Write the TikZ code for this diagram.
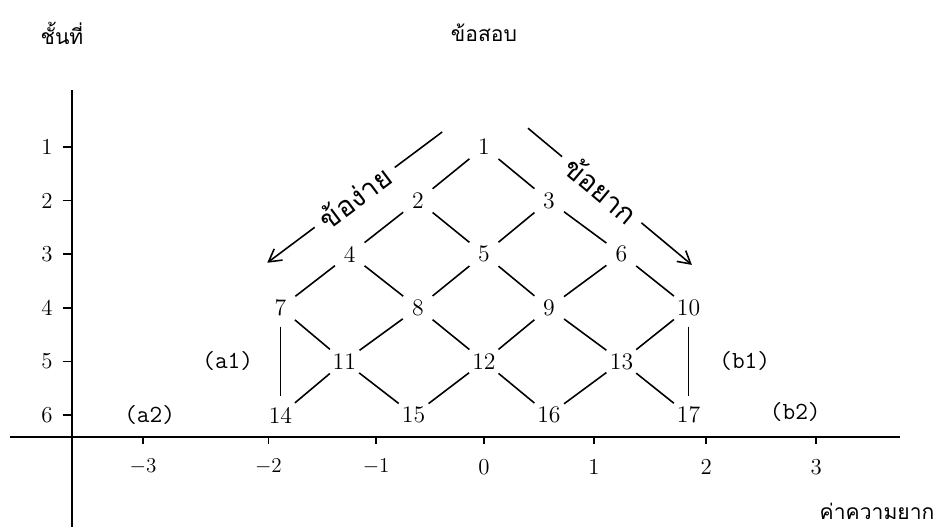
\documentclass[tikz,border=0pt]{standalone}
\usepackage{fontspec}
\newfontfamily\thaifont[Script=Thai]{Loma}
\usetikzlibrary{arrows.meta, positioning}

\begin{document}
\begin{tikzpicture}[
    x=2.2cm, y=-1.072cm,
    item/.style={circle, inner sep=0.5pt, minimum size=21pt, font=\fontsize{13.5}{15}\selectfont},
    link/.style={line width=0.9pt},
    axis/.style={line width=1.4pt},
    axtick/.style={line width=0.9pt},
    ticklabel/.style={inner sep=1pt, font=\fontsize{13}{15}\selectfont},
    group/.style={inner sep=1pt, font=\ttfamily\fontsize{14}{16}\selectfont},
    thai/.style={inner sep=2pt, font=\thaifont\large},
    trend/.style={line width=0.9pt, -{Straight Barb[length=7pt, width=8pt]}}
]

\useasboundingbox (-4.4,-1.7425) rectangle (4.1545,8.0896);

% Titles
\node[thai] (ytitle) at (-3.836,-1.127) {ชั้นที่};
\node[thai] (ttitle) at (0,-1.127) {ข้อสอบ};
\node[thai] (xtitle) at (3.573,7.8) {ค่าความยาก};

% Axes
\coordinate (ytop) at (-3.745,-0.06);
\coordinate (ybot) at (-3.745,8.0896);
\coordinate (xleft) at (-4.31,6.41);
\coordinate (xright) at (3.78,6.41);
\draw[axis] (ytop) -- (ybot);
\draw[axis] (xleft) -- (xright);

% Level ticks (left)
\draw[axtick] (-3.83,1) -- (-3.745,1);
\draw[axtick] (-3.83,2) -- (-3.745,2);
\draw[axtick] (-3.83,3) -- (-3.745,3);
\draw[axtick] (-3.83,4) -- (-3.745,4);
\draw[axtick] (-3.83,5) -- (-3.745,5);
\draw[axtick] (-3.83,6) -- (-3.745,6);
\node[ticklabel] (lv1) at (-3.973,1) {1};
\node[ticklabel] (lv2) at (-3.973,2) {2};
\node[ticklabel] (lv3) at (-3.973,3) {3};
\node[ticklabel] (lv4) at (-3.973,4) {4};
\node[ticklabel] (lv5) at (-3.973,5) {5};
\node[ticklabel] (lv6) at (-3.973,6) {6};

% Difficulty ticks (bottom)
\draw[axtick] (-3.1,6.41) -- (-3.1,6.54);
\draw[axtick] (-1.96,6.41) -- (-1.96,6.54);
\draw[axtick] (-0.98,6.41) -- (-0.98,6.54);
\draw[axtick] (0,6.41) -- (0,6.54);
\draw[axtick] (1,6.41) -- (1,6.54);
\draw[axtick] (2.02,6.41) -- (2.02,6.54);
\draw[axtick] (3.02,6.41) -- (3.02,6.54);
\node[ticklabel] (dm3) at (-3.1,6.97) {$-3$};
\node[ticklabel] (dm2) at (-1.96,6.97) {$-2$};
\node[ticklabel] (dm1) at (-0.98,6.97) {$-1$};
\node[ticklabel] (d0) at (0,6.97) {0};
\node[ticklabel] (d1) at (1,6.97) {1};
\node[ticklabel] (d2) at (2.02,6.97) {2};
\node[ticklabel] (d3) at (3.02,6.97) {3};

% Items
\node[item] (i1) at (0,1) {1};
\node[item] (i2) at (-0.6,2) {2};
\node[item] (i3) at (0.59,2) {3};
\node[item] (i4) at (-1.22,3) {4};
\node[item] (i5) at (0,3) {5};
\node[item] (i6) at (1.25,3) {6};
\node[item] (i7) at (-1.85,4) {7};
\node[item] (i8) at (-0.6,4) {8};
\node[item] (i9) at (0.59,4) {9};
\node[item] (i10) at (1.86,4) {10};
\node[item] (i11) at (-1.27,5) {11};
\node[item] (i12) at (0,5) {12};
\node[item] (i13) at (1.25,5) {13};
\node[item] (i14) at (-1.85,6) {14};
\node[item] (i15) at (-0.64,6) {15};
\node[item] (i16) at (0.59,6) {16};
\node[item] (i17) at (1.86,6) {17};

% Group labels
\node[group] (a1) at (-2.33,5) {(a1)};
\node[group] (a2) at (-3.04,6) {(a2)};
\node[group] (b1) at (2.37,5) {(b1)};
\node[group] (b2) at (2.83,5.95) {(b2)};

% Edges: lattice
\draw[link] (i1) -- (i2);
\draw[link] (i1) -- (i3);
\draw[link] (i2) -- (i4);
\draw[link] (i2) -- (i5);
\draw[link] (i3) -- (i5);
\draw[link] (i3) -- (i6);
\draw[link] (i4) -- (i7);
\draw[link] (i4) -- (i8);
\draw[link] (i5) -- (i8);
\draw[link] (i5) -- (i9);
\draw[link] (i6) -- (i9);
\draw[link] (i6) -- (i10);
\draw[link] (i7) -- (i11);
\draw[link] (i8) -- (i11);
\draw[link] (i8) -- (i12);
\draw[link] (i9) -- (i12);
\draw[link] (i9) -- (i13);
\draw[link] (i10) -- (i13);
\draw[link] (i11) -- (i14);
\draw[link] (i11) -- (i15);
\draw[link] (i12) -- (i15);
\draw[link] (i12) -- (i16);
\draw[link] (i13) -- (i16);
\draw[link] (i13) -- (i17);

% Edges: sides
\draw[link] (i7) -- (i14);
\draw[link] (i10) -- (i17);

% Direction arrows
\coordinate (easytop) at (-0.38,0.72);
\coordinate (easyend) at (-1.97,3.16);
\coordinate (hardtop) at (0.4,0.65);
\coordinate (hardend) at (1.89,3.2);
\draw[trend] (easytop) -- node[sloped, fill=white, thai, font=\thaifont\fontsize{16}{18}\selectfont, inner xsep=5pt] {ข้อง่าย} (easyend);
\draw[trend] (hardtop) -- node[pos=0.45, sloped, fill=white, thai, font=\thaifont\fontsize{16}{18}\selectfont, inner xsep=5pt] {ข้อยาก} (hardend);

\end{tikzpicture}
\end{document}
